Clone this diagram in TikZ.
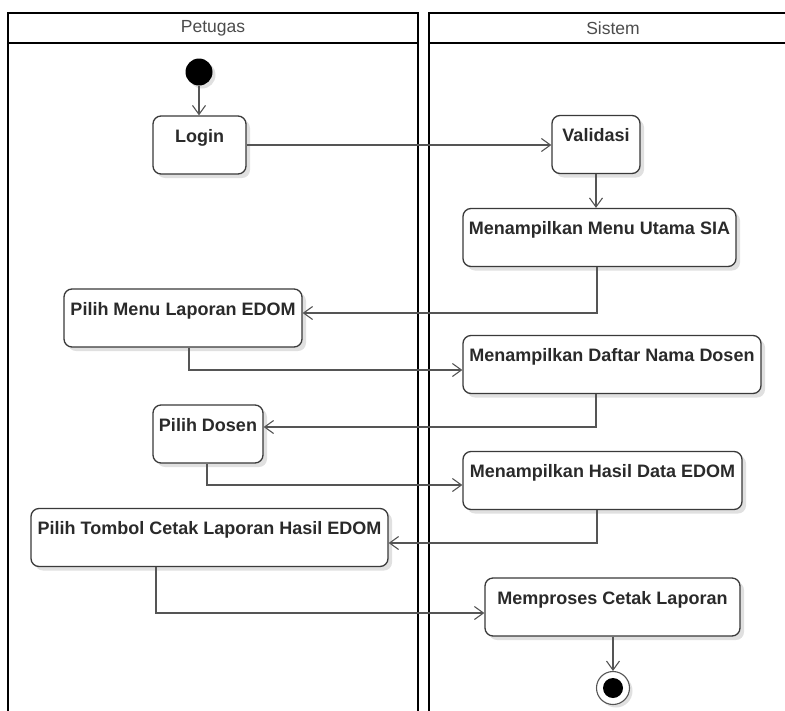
\documentclass[tikz,border=0pt]{standalone}
\usepackage{fontspec}
\setmainfont{Liberation Sans}
\usetikzlibrary{arrows.meta,shadows}
\definecolor{linegray}{HTML}{555555}
\definecolor{boxgray}{HTML}{3A3A3A}
\definecolor{txtgray}{HTML}{2A2A2A}
\tikzset{
  act/.style={draw=boxgray, line width=1.3pt, rounded corners=8pt, fill=white,
    text=txtgray, font=\bfseries\fontsize{18}{20}\selectfont,
    inner xsep=2pt, inner ysep=0pt, text height=26pt, text depth=32pt,
    minimum height=58pt,
    drop shadow={shadow xshift=4pt, shadow yshift=-4pt, opacity=0.12, fill=black}},
  flow/.style={draw=linegray, line width=1.3pt, -{Straight Barb[length=9pt,width=13pt,line width=1.1pt]}},
  lane/.style={draw=black, line width=2.4pt},
  lanetitle/.style={text=black!70, font=\fontsize{17.5}{20}\selectfont, inner sep=0pt},
  startnode/.style={circle, fill=black, minimum size=27pt, inner sep=0pt,
    drop shadow={shadow xshift=3pt, shadow yshift=-3pt, opacity=0.12, fill=black}},
  endnode/.style={circle, draw=linegray, line width=1.1pt, fill=white, minimum size=33pt, inner sep=0pt,
    drop shadow={shadow xshift=3pt, shadow yshift=-3pt, opacity=0.12, fill=black}}
}
\begin{document}
\begin{tikzpicture}[x=1pt,y=-1pt]
\useasboundingbox[fill=white] (0,0) rectangle (785,710);
% swimlanes
\begin{scope}
\clip (0,0) rectangle (785,710);
\draw[lane] (8,715) -- (8,12.7) -- (418,12.7) -- (418,715);
\draw[lane] (8,42.7) -- (418,42.7);
\draw[lane] (429,715) -- (429,12.7) -- (795,12.7);
\draw[lane] (429,42.7) -- (795,42.7);
\end{scope}
\node[lanetitle] (tP) at (213,28) {Petugas};
\node[lanetitle] (tS) at (613,28) {Sistem};

% activities
\node[startnode] (start) at (199,72) {};
\node[act, minimum width=93pt]  (Login)       at (199.5,145)   {Login};
\node[act, minimum width=88pt]  (Validasi)    at (596,144.5)   {Validasi};
\node[act, minimum width=273pt] (MenuUtama)   at (599.5,237.5) {Menampilkan Menu Utama SIA};
\node[act, minimum width=238pt] (PilihMenu)   at (183,318)     {Pilih Menu Laporan EDOM};
\node[act, minimum width=298pt] (DaftarDosen) at (612,364.5)   {Menampilkan Daftar Nama Dosen};
\node[act, minimum width=110pt] (PilihDosen)  at (208,434)     {Pilih Dosen};
\node[act, minimum width=279pt] (HasilData)   at (602.5,480.5) {Menampilkan Hasil Data EDOM};
\node[act, minimum width=357pt] (PilihTombol) at (209.5,537.5) {Pilih Tombol Cetak Laporan Hasil EDOM};
\node[act, minimum width=255pt] (Memproses)   at (612.5,607)   {Memproses Cetak Laporan};
\node[endnode] (end) at (613,688) {};
\fill[black] (end.center) circle (10pt);

% flows
\draw[flow] (start) -- (start |- Login.north);
\draw[flow] (Login.east) -- (Login.east -| Validasi.west);
\draw[flow] (Validasi.south) -- (Validasi.south |- MenuUtama.north);
\draw[flow] ([xshift=-2.5pt]MenuUtama.south) |- ([yshift=5pt]PilihMenu.east);
\draw[flow] ([xshift=6pt]PilihMenu.south) |- ([yshift=-5.5pt]DaftarDosen.west);
\draw[flow] ([xshift=-16pt]DaftarDosen.south) |- ([yshift=7pt]PilihDosen.east);
\draw[flow] ([xshift=-1pt]PilihDosen.south) |- ([yshift=-4.5pt]HasilData.west);
\draw[flow] ([xshift=-5.5pt]HasilData.south) |- ([yshift=-5.5pt]PilihTombol.east);
\draw[flow] ([xshift=-53.5pt]PilihTombol.south) |- ([yshift=-6pt]Memproses.west);
\draw[flow] (Memproses.south -| end) -- (end.north);
\end{tikzpicture}
\end{document}
